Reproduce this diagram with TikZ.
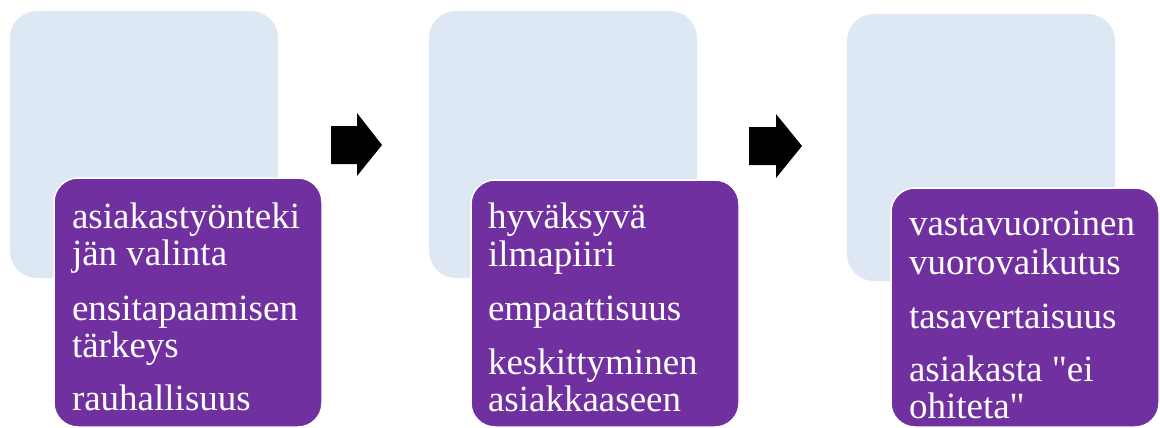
\documentclass[tikz,border=0pt]{standalone}
\usepackage{fontspec}
\setmainfont{Liberation Serif}[Ligatures=TeXOff]
\newfontfamily\itemfont{Liberation Serif}[Ligatures=TeXOff]
\definecolor{boxblue}{HTML}{DDE8F4}
\definecolor{boxpurple}{HTML}{7030A0}
\begin{document}
\begin{tikzpicture}[x=1pt,y=-1pt,
  bluebox/.style={fill=boxblue, rounded corners=27pt, anchor=north west, inner sep=0pt, outer sep=0pt, minimum width=268pt, minimum height=267pt},
  purplebox/.style={fill=boxpurple, draw=white, line width=1.5pt, rounded corners=24pt, anchor=north west, inner sep=0pt, outer sep=0pt, minimum width=268pt},
  itemtext/.style={anchor=base west, inner sep=0pt, outer sep=0pt, text=white, font=\itemfont\fontsize{37}{37}\selectfont},
  arrowshape/.style={fill=black}]
\useasboundingbox (0,0) rectangle (1160,428);
% light blue back boxes
\node[bluebox] (b1) at (10,11) {};
\node[bluebox] (b2) at (429,11) {};
\node[bluebox] (b3) at (847,14) {};
% purple front boxes
\node[purplebox, minimum height=249pt] (p1) at (54,178) {};
\node[purplebox, minimum height=247pt] (p2) at (471,180) {};
\node[purplebox, minimum height=239pt] (p3) at (891,188) {};
% arrows
\fill[arrowshape] (331,126) -- (357,126) -- (357,113) -- (382,145) -- (357,176) -- (357,164) -- (331,164) -- cycle;
\fill[arrowshape] (749,127) -- (776,127) -- (776,114) -- (802,146) -- (776,178) -- (776,165) -- (749,165) -- cycle;
% texts box 1
\node[itemtext] (t11) at (72,228) {asiakastyönteki};
\node[itemtext] (t12) at (72,265) {jän valinta};
\node[itemtext] (t13) at (72,320) {ensitapaamisen};
\node[itemtext] (t14) at (72,357) {tärkeys};
\node[itemtext] (t15) at (72,410) {rauhallisuus};
% texts box 2
\node[itemtext] (t21) at (488,228) {hyväksyvä};
\node[itemtext] (t22) at (488,266) {ilmapiiri};
\node[itemtext] (t23) at (488,320) {empaattisuus};
\node[itemtext] (t24) at (488,374) {keskittyminen};
\node[itemtext] (t25) at (488,411) {asiakkaaseen};
% texts box 3
\node[itemtext] (t31) at (909,235) {vastavuoroinen};
\node[itemtext] (t32) at (909,274) {vuorovaikutus};
\node[itemtext] (t33) at (909,328) {tasavertaisuus};
\node[itemtext] (t34) at (909,381) {asiakasta "ei};
\node[itemtext] (t35) at (909,418) {ohiteta"};
\end{tikzpicture}
\end{document}
